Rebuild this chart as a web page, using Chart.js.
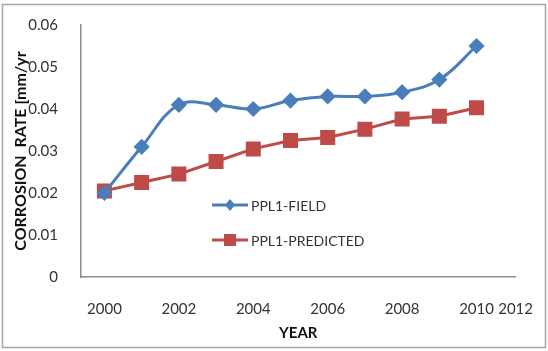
<!DOCTYPE html>
<html>
<head>
<meta charset="utf-8">
<script src="https://cdn.jsdelivr.net/npm/chart.js@4"></script>
<style>
  html, body { margin: 0; padding: 0; background: #fff; }
  #wrap { width: 548px; height: 351px; }
</style>
</head>
<body>
<div id="wrap"><canvas id="chart" width="548" height="351"></canvas></div>
<script>
const years = [2000, 2001, 2002, 2003, 2004, 2005, 2006, 2007, 2008, 2009, 2010];
const fieldRate = [0.020, 0.031, 0.041, 0.041, 0.040, 0.042, 0.043, 0.043, 0.044, 0.047, 0.055];
const predictedRate = [0.0205, 0.0225, 0.0245, 0.0275, 0.0305, 0.0325, 0.0332, 0.0352, 0.0376, 0.0383, 0.0403];
const xTicks = [2000, 2002, 2004, 2006, 2008, 2010, 2012];
const yTicks = [0, 0.01, 0.02, 0.03, 0.04, 0.05, 0.06];

const blue = "#4a7ebb";
const red = "#be4b48";
const font = "Lato, 'Open Sans', sans-serif";

// box round the whole picture, like the Excel chart area
const frame = {
    id: "frame",
    beforeDraw(chart) {
        const c = chart.ctx;
        c.save();
        c.strokeStyle = "#a6a6a6";
        c.lineWidth = 1.5;
        c.strokeRect(2.5, 4.5, 543, 343);
        c.restore();
    }
};

// legend sits inside the plot, so draw it by hand from the datasets
const innerLegend = {
    id: "innerLegend",
    afterDraw(chart) {
        const c = chart.ctx;
        const rows = [205, 240];
        c.save();
        chart.data.datasets.forEach((ds, i) => {
            const y = rows[i];
            c.strokeStyle = ds.borderColor;
            c.lineWidth = 3;
            c.beginPath();
            c.moveTo(212, y);
            c.lineTo(248, y);
            c.stroke();
            c.fillStyle = ds.backgroundColor;
            c.beginPath();
            if (ds.pointStyle === "rect") {
                c.rect(230 - 6, y - 6, 12, 12);
            } else {
                c.moveTo(230, y - 6);
                c.lineTo(235, y);
                c.lineTo(230, y + 6);
                c.lineTo(225, y);
                c.closePath();
            }
            c.fill();
            c.fillStyle = "#333";
            c.font = "14px " + font;
            c.textBaseline = "middle";
            c.textAlign = "left";
            c.fillText(ds.label, 251, y + 1);
        });
        c.restore();
    }
};

new Chart(document.getElementById("chart"), {
    type: "line",
    data: {
        datasets: [
            {
                label: "PPL1-FIELD",
                data: years.map((y, i) => ({ x: y, y: fieldRate[i] })),
                borderColor: blue,
                backgroundColor: blue,
                borderWidth: 3,
                pointStyle: "rectRot",
                pointRadius: 6,
                pointHoverRadius: 6,
                tension: 0.4
            },
            {
                label: "PPL1-PREDICTED",
                data: years.map((y, i) => ({ x: y, y: predictedRate[i] })),
                borderColor: red,
                backgroundColor: red,
                borderWidth: 3,
                pointStyle: "rect",
                pointRadius: 8.5,
                pointHoverRadius: 8.5,
                tension: 0
            }
        ]
    },
    options: {
        responsive: false,
        animation: false,
        layout: { padding: { top: 25, right: 27, left: 0, bottom: 0 } },
        plugins: {
            legend: { display: false },
            tooltip: { enabled: false }
        },
        scales: {
            x: {
                type: "linear",
                min: 1999.37,
                max: 2011.05,
                grid: { display: false },
                border: { display: true, color: "#8c8c8c", width: 1.5 },
                afterBuildTicks(scale) {
                    scale.ticks = xTicks.map(v => ({ value: Math.min(v, scale.max) }));
                },
                afterFit(scale) { scale.height = 74; },
                ticks: {
                    padding: 15,
                    maxRotation: 0,
                    autoSkip: false,
                    color: "#333",
                    font: { family: font, size: 15 },
                    callback: (v, i) => String(xTicks[i])
                },
                title: {
                    display: true,
                    text: "YEAR",
                    color: "#111",
                    font: { family: font, size: 15, weight: "bold" },
                    padding: { top: 0, bottom: 9 }
                }
            },
            y: {
                min: 0,
                max: 0.06,
                grid: { display: false },
                border: { display: true, color: "#8c8c8c", width: 1.5 },
                afterBuildTicks(scale) {
                    scale.ticks = yTicks.map(v => ({ value: v }));
                },
                afterFit(scale) { scale.width = 81; },
                ticks: {
                    padding: 15,
                    color: "#333",
                    font: { family: font, size: 15 },
                    callback: v => v === 0 ? "0" : v.toFixed(2)
                },
                title: {
                    display: true,
                    text: "CORROSION  RATE [mm/yr",
                    color: "#111",
                    font: { family: font, size: 16, weight: "bold" },
                    padding: { top: 11, bottom: 0 }
                }
            }
        }
    },
    plugins: [frame, innerLegend]
});
</script>
</body>
</html>
